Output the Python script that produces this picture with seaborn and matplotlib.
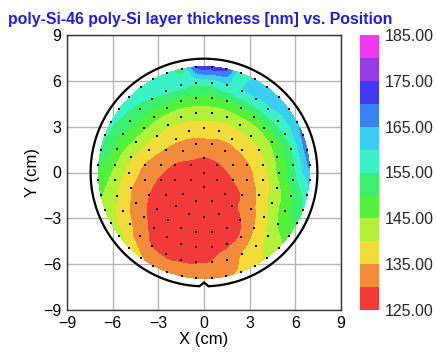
import numpy as np
import pandas as pd
import matplotlib
matplotlib.use("Agg")
import matplotlib.pyplot as plt
import matplotlib.tri as mtri
from matplotlib.colors import ListedColormap, BoundaryNorm
import seaborn as sns

# ---------------- data (read from the wafer map) ----------------
# measurement sites: concentric rings (radius in cm, number of sites, first angle in deg)
ring_radius = [0.0, 0.95, 1.95, 2.9, 3.9, 4.9, 5.9, 6.95]
ring_count = [1, 6, 12, 18, 24, 30, 36, 44]
ring_start_deg = [0.0, 90.0, 15.0, 90.0, 7.5, 0.0, 5.0, 94.09]

# thickness [nm] at each site, ring by ring, counter-clockwise from the first angle
ring0 = [128.4]
ring1 = [129.8, 129.0, 127.6, 127.2, 128.0, 129.3]
ring2 = [131.9, 133.0, 133.6, 133.4, 132.2, 129.6, 127.8, 126.6, 126.2, 126.8, 128.3, 129.9]
ring3 = [137.9, 137.0, 136.0, 134.4, 132.0, 129.3, 127.9, 126.6, 126.0, 126.2, 127.2, 129.0,
         130.3, 133.3, 134.4, 135.7, 136.3, 137.0]
ring4 = [138.9, 139.6, 140.6, 141.7, 142.2, 142.4, 142.3, 141.6, 140.8, 139.6, 137.5, 134.5,
         132.4, 129.9, 128.5, 127.3, 126.6, 126.6, 127.2, 128.4, 129.7, 133.3, 135.7, 137.4]
ring5 = [145.7, 145.9, 146.1, 147.0, 148.0, 148.8, 148.6, 148.5, 148.2, 147.6, 147.2, 146.5,
         145.6, 143.5, 140.5, 138.0, 135.2, 133.0, 130.6, 129.2, 128.0, 127.7, 127.8, 128.4,
         129.0, 130.6, 134.8, 138.0, 141.7, 143.3]
ring6 = [153.8, 154.5, 155.5, 157.0, 158.8, 159.5, 159.5, 159.0, 157.0, 156.5, 156.5, 156.0,
         154.8, 153.3, 152.2, 149.5, 147.5, 145.0, 142.2, 140.0, 137.5, 135.5, 131.8, 129.8,
         129.3, 129.6, 129.8, 130.1, 132.0, 135.0, 138.0, 140.7, 144.8, 147.5, 148.6, 152.7]
ring7 = [171.0, 154.5, 157.0, 158.0, 157.8, 157.5, 157.0, 156.4, 155.6, 154.6, 151.0, 148.8,
         145.5, 143.5, 142.0, 141.3, 139.5, 135.6, 133.3, 132.0, 131.5, 131.5, 132.0, 134.0,
         135.8, 138.2, 140.8, 143.5, 147.3, 151.0, 155.0, 158.0, 161.5, 166.0, 167.5, 166.5,
         164.0, 162.5, 162.0, 161.5, 161.0, 156.0, 171.0, 173.5]
ring_values = [ring0, ring1, ring2, ring3, ring4, ring5, ring6, ring7]

levels = [125, 130, 135, 140, 145, 150, 155, 160, 165, 170, 175, 180, 185]
level_colors = ["#f23a3a", "#f28c3a", "#f2dc3a", "#b4f23a", "#52f23a", "#3af06e",
                "#3af2c6", "#3acef2", "#3a80f2", "#403af2", "#963ae8", "#f03af0"]
cbar_ticks = [125, 135, 145, 155, 165, 175, 185]
axis_ticks = [-9, -6, -3, 0, 3, 6, 9]
title = "poly-Si-46 poly-Si layer thickness [nm] vs. Position"
wafer_radius = 7.45

# ---------------- build table ----------------
rows = []
for r, n, a0, vals in zip(ring_radius, ring_count, ring_start_deg, ring_values):
    for j in range(n):
        ang = np.deg2rad(a0 + j * 360.0 / n)
        rows.append((r * np.cos(ang), r * np.sin(ang), vals[j]))
df = pd.DataFrame(rows, columns=["x", "y", "thickness"])

# ---------------- figure ----------------
sns.set_theme(style="white")
plt.rcParams["font.family"] = ["Liberation Sans", "DejaVu Sans"]

fig = plt.figure(figsize=(4.36, 3.54), dpi=100)
ax = fig.add_axes([67 / 436, 44 / 354, 274 / 436, 275 / 354])
cax = fig.add_axes([360 / 436, 44 / 354, 19 / 436, 275 / 354])

cmap = ListedColormap(level_colors)
norm = BoundaryNorm(levels, cmap.N)

ax.set_axisbelow(True)
ax.grid(True, color="#b4b4b4", linewidth=1.0, zorder=0)

tri = mtri.Triangulation(df["x"].to_numpy(), df["y"].to_numpy())
interp = mtri.CubicTriInterpolator(tri, df["thickness"].to_numpy(), kind="geom")
refiner = mtri.UniformTriRefiner(tri)
tri_f, z_f = refiner.refine_field(df["thickness"].to_numpy(), triinterpolator=interp,
                                  subdiv=3)
z_f = np.clip(z_f, levels[0] + 0.01, levels[-1] - 0.01)
cf = ax.tricontourf(tri_f, z_f, levels=levels, cmap=cmap, norm=norm, zorder=2)

sns.scatterplot(data=df, x="x", y="y", ax=ax, color="black", s=2.5, marker="s",
                linewidth=0, zorder=4, legend=False)

# wafer outline with notch
half = np.deg2rad(2.3)
t = np.linspace(-np.pi / 2 + half, 3 * np.pi / 2 - half, 400)
cx = list(wafer_radius * np.cos(t)) + [0.0, wafer_radius * np.cos(t[0])]
cy = list(wafer_radius * np.sin(t)) + [-7.2, wafer_radius * np.sin(t[0])]
ax.plot(cx, cy, color="black", linewidth=1.6, zorder=5, solid_joinstyle="miter")

ax.set_xlim(-9, 9)
ax.set_ylim(-9, 9)
ax.set_xticks(axis_ticks)
ax.set_yticks(axis_ticks)
ax.minorticks_off()
ax.tick_params(axis="both", which="both", length=0, width=0, labelsize=11.5,
               colors="black", pad=4, right=False, top=False)
for s in ax.spines.values():
    s.set_color("#333333")
    s.set_linewidth(1.0)
ax.set_xlabel("X (cm)", fontsize=12, labelpad=1, color="black")
ax.set_ylabel("Y (cm)", fontsize=12, labelpad=2, color="black")
ax.set_title(title, fontsize=11.4, fontweight="bold", color="#1c1ce6", pad=8, x=0.485)

cb = fig.colorbar(cf, cax=cax, ticks=cbar_ticks)
cb.outline.set_visible(False)
cb.ax.minorticks_off()
cb.ax.set_yticks(cbar_ticks)
cb.ax.set_yticklabels([f"{v:.2f}" for v in cbar_ticks])
cb.ax.tick_params(axis="y", which="both", length=0, width=0, labelsize=11.5, pad=4,
                  left=False, right=False, labelleft=False, labelright=True)

fig.savefig("out.png", dpi=100)
